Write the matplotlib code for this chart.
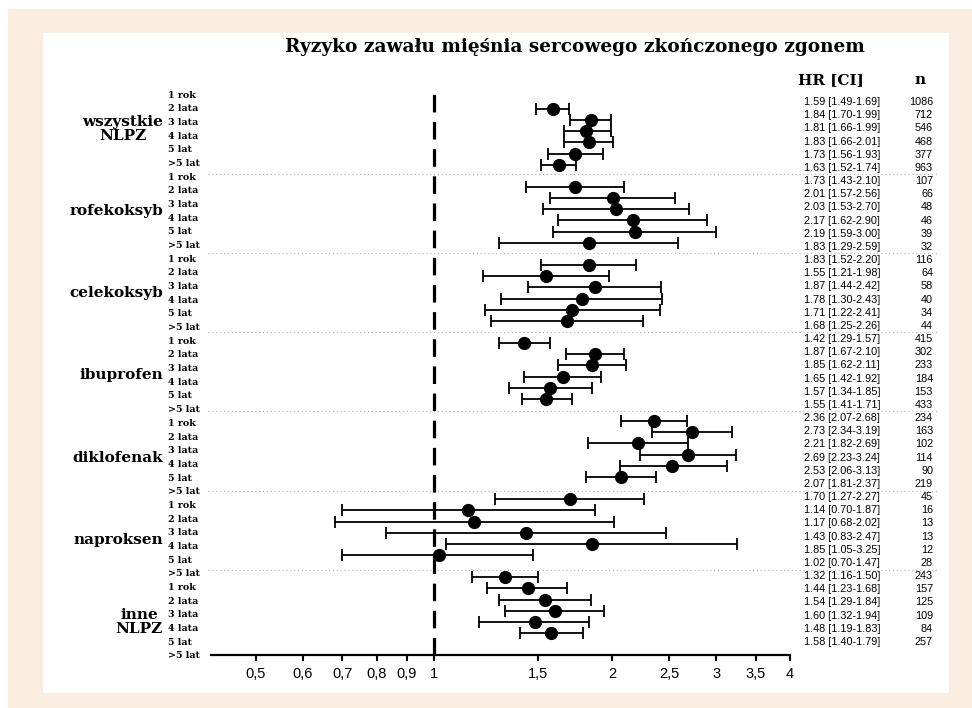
import numpy as np
import matplotlib
matplotlib.use('Agg')
import matplotlib.pyplot as plt
from matplotlib.patches import Rectangle

TITLE = 'Ryzyko zawału mięśnia sercowego zkończonego zgonem'

groups = ['wszystkie\nNLPZ', 'rofekoksyb', 'celekoksyb', 'ibuprofen',
          'diklofenak', 'naproksen', 'inne\nNLPZ']
periods = ['1 rok', '2 lata', '3 lata', '4 lata', '5 lat', '>5 lat']

hr = [[1.59, 1.84, 1.81, 1.83, 1.73, 1.63],
      [1.73, 2.01, 2.03, 2.17, 2.19, 1.83],
      [1.83, 1.55, 1.87, 1.78, 1.71, 1.68],
      [1.42, 1.87, 1.85, 1.65, 1.57, 1.55],
      [2.36, 2.73, 2.21, 2.69, 2.53, 2.07],
      [1.70, 1.14, 1.17, 1.43, 1.85, 1.02],
      [1.32, 1.44, 1.54, 1.60, 1.48, 1.58]]
ci_lo = [[1.49, 1.70, 1.66, 1.66, 1.56, 1.52],
         [1.43, 1.57, 1.53, 1.62, 1.59, 1.29],
         [1.52, 1.21, 1.44, 1.30, 1.22, 1.25],
         [1.29, 1.67, 1.62, 1.42, 1.34, 1.41],
         [2.07, 2.34, 1.82, 2.23, 2.06, 1.81],
         [1.27, 0.70, 0.68, 0.83, 1.05, 0.70],
         [1.16, 1.23, 1.29, 1.32, 1.19, 1.40]]
ci_hi = [[1.69, 1.99, 1.99, 2.01, 1.93, 1.74],
         [2.10, 2.56, 2.70, 2.90, 3.00, 2.59],
         [2.20, 1.98, 2.42, 2.43, 2.41, 2.26],
         [1.57, 2.10, 2.11, 1.92, 1.85, 1.71],
         [2.68, 3.19, 2.69, 3.24, 3.13, 2.37],
         [2.27, 1.87, 2.02, 2.47, 3.25, 1.47],
         [1.50, 1.68, 1.84, 1.94, 1.83, 1.79]]
n_pat = [[1086, 712, 546, 468, 377, 963],
         [107, 66, 48, 46, 39, 32],
         [116, 64, 58, 40, 34, 44],
         [415, 302, 233, 184, 153, 433],
         [234, 163, 102, 114, 90, 219],
         [45, 16, 13, 13, 12, 28],
         [243, 157, 125, 109, 84, 257]]

xticks = [0.5, 0.6, 0.7, 0.8, 0.9, 1, 1.5, 2, 2.5, 3, 3.5, 4]

W, H = 972, 708
BEIGE = '#fcede1'
SERIF = 'DejaVu Serif'
SANS = 'Liberation Sans'

fig = plt.figure(figsize=(W / 100, H / 100), dpi=100, facecolor='white')

# background layer in pixel coordinates (frame, texts, separators)
ov = fig.add_axes([0, 0, 1, 1], zorder=0)
ov.set_xlim(0, W)
ov.set_ylim(H, 0)
ov.axis('off')
ov.add_patch(Rectangle((8, 9), W - 8, H - 9, color=BEIGE, lw=0))
ov.add_patch(Rectangle((43, 33), 906, 660, color='white', lw=0))

ov.text(575, 47, TITLE, ha='center', va='center', fontsize=13.3,
        fontweight='bold', family=SERIF)
ov.text(831, 80, 'HR [CI]', ha='center', va='center', fontsize=11,
        fontweight='bold', family=SERIF)
ov.text(920, 80, 'n', ha='center', va='center', fontsize=11,
        fontweight='bold', family=SERIF)

lab_y0, lab_step = 95, 13.68
txt_y0, txt_step = 102, 13.17
for g, name in enumerate(groups):
    gy = lab_y0 + lab_step * (6 * g + 2.5)
    ov.text(163, gy, name, ha='right', va='center', fontsize=11,
            fontweight='bold', family=SERIF, multialignment='center',
            linespacing=1.0)
    for i, p in enumerate(periods):
        r = 6 * g + i
        ov.text(168, lab_y0 + lab_step * r, p, ha='left', va='center',
                fontsize=6.8, fontweight='bold', family=SERIF)
        ty = txt_y0 + txt_step * r
        ov.text(880, ty, f'{hr[g][i]:.2f} [{ci_lo[g][i]:.2f}-{ci_hi[g][i]:.2f}]',
                ha='right', va='center', fontsize=7.8, family=SANS)
        ov.text(933, ty, str(n_pat[g][i]), ha='right', va='center',
                fontsize=7.8, family=SANS)
    if g < len(groups) - 1:
        sy = txt_y0 + txt_step * (6 * g + 5.5)
        ov.plot([208, 937], [sy, sy], color='#b0b0b0', lw=0.8, ls=(0, (1, 2.5)))

# forest plot
ax = fig.add_axes([211 / W, 1 - 655 / H, (790 - 211) / W, (655 - 88) / H],
                  zorder=1)
ax.patch.set_alpha(0)

x = np.array(hr).ravel()
lo = np.array(ci_lo).ravel()
hi = np.array(ci_hi).ravel()
y = np.array([7 * g + i for g in range(len(groups)) for i in range(len(periods))])

ax.errorbar(x, y, xerr=[x - lo, hi - x], fmt='o', color='black', ms=8.5,
            elinewidth=1.3, capsize=4, capthick=1.3)
ax.axvline(1, color='black', lw=2.3, ls=(0, (5.5, 3)))

ax.set_xscale('log')
ax.set_xlim(0.42, 4)
ax.set_ylim(48.97, -1.88)
ax.set_xticks(xticks)
ax.set_xticklabels([str(t).replace('.', ',') if t != int(t) else str(int(t)) for t in xticks])
ax.xaxis.set_minor_locator(matplotlib.ticker.NullLocator())
ax.tick_params(axis='x', length=4, width=1.5, pad=5, labelsize=10.5)
for lab in ax.get_xticklabels():
    lab.set_family(SANS)
ax.set_yticks([])
for s in ['top', 'right', 'left']:
    ax.spines[s].set_visible(False)
ax.spines['bottom'].set_linewidth(1.6)

fig.savefig('out.png', dpi=100, facecolor=fig.get_facecolor())
